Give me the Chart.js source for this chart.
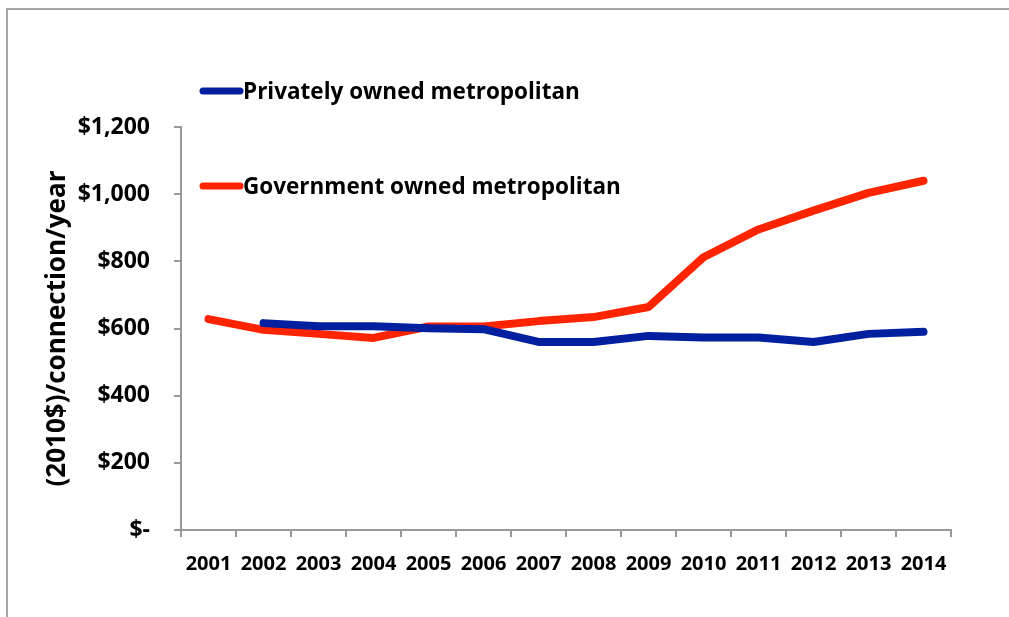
<!DOCTYPE html>
<html>
<head>
<meta charset="utf-8">
<script src="https://cdn.jsdelivr.net/npm/chart.js@4"></script>
<style>
  html, body { margin: 0; padding: 0; background: #fff; overflow: hidden; }
  #frame {
    position: absolute; left: 6px; top: 8px; width: 1100px; height: 700px;
    border-top: 2px solid #a6a6a6; border-left: 2px solid #a6a6a6;
  }
  #wrap { position: absolute; left: 0; top: 0; width: 1009px; height: 617px; }
</style>
</head>
<body>
<div id="frame"></div>
<div id="wrap"><canvas id="costChart"></canvas></div>
<script>
const years = ["2001", "2002", "2003", "2004", "2005", "2006", "2007",
               "2008", "2009", "2010", "2011", "2012", "2013", "2014"];
const privateOwned = [null, 616, 607, 607, 601, 598, 560, 560, 578, 573, 573, 560, 584, 590];
const governmentOwned = [628, 596, 584, 572, 606, 606, 622, 634, 664, 812, 895, 951, 1004, 1040];
const yTicks = [0, 200, 400, 600, 800, 1000, 1200];

const FONT = "'Open Sans', 'Noto Sans', sans-serif";

function money(v) {
  if (v === 0) return "$-";
  return "$" + v.toLocaleString("en-US");
}

// legend entries drawn at fixed spots, one above the plot, one inside it
const floatingLegend = {
  id: "floatingLegend",
  afterDraw(chart) {
    const ctx = chart.ctx;
    const spots = [{ x: 200, y: 91 }, { x: 200, y: 186 }];
    chart.data.datasets.forEach((ds, i) => {
      const p = spots[i];
      ctx.save();
      ctx.strokeStyle = ds.borderColor;
      ctx.lineWidth = 7;
      ctx.lineCap = "round";
      ctx.beginPath();
      ctx.moveTo(p.x + 3, p.y);
      ctx.lineTo(p.x + 40, p.y);
      ctx.stroke();
      ctx.fillStyle = "#000";
      ctx.font = "bold 22.5px " + FONT;
      ctx.textBaseline = "middle";
      ctx.fillText(ds.label, p.x + 43, p.y + 2);
      ctx.restore();
    });
  }
};

new Chart(document.getElementById("costChart"), {
  type: "line",
  data: {
    labels: years,
    datasets: [
      {
        label: "Privately owned metropolitan",
        data: privateOwned,
        borderColor: "#0020a0",
        backgroundColor: "#0020a0",
      },
      {
        label: "Government owned metropolitan",
        data: governmentOwned,
        borderColor: "#ff2400",
        backgroundColor: "#ff2400",
      },
    ],
  },
  options: {
    responsive: true,
    maintainAspectRatio: false,
    animation: false,
    layout: { padding: { left: 42, top: 127, right: 58, bottom: 26 } },
    elements: {
      line: { borderWidth: 8, tension: 0, borderCapStyle: "round", borderJoinStyle: "round" },
      point: { radius: 0, hoverRadius: 0 },
    },
    plugins: { legend: { display: false }, tooltip: { enabled: false } },
    scales: {
      x: {
        offset: true,
        grid: { offset: true, drawOnChartArea: false, color: "#999", tickLength: 7, lineWidth: 2 },
        border: { color: "#999", width: 2 },
        ticks: { color: "#000", font: { family: FONT, size: 20, weight: "bold" }, padding: 15, maxRotation: 0, autoSkip: false },
      },
      y: {
        min: 0,
        max: 1200,
        afterBuildTicks(scale) {
          scale.ticks = yTicks.map(v => ({ value: v }));
        },
        afterFit(scale) {
          scale.width = 139;
        },
        grid: { drawOnChartArea: false, color: "#999", tickLength: 7, lineWidth: 2 },
        border: { color: "#999", width: 2 },
        ticks: {
          color: "#000",
          font: { family: FONT, size: 23, weight: "bold" },
          padding: 24,
          callback: v => money(v),
        },
        title: {
          display: true,
          text: "(2010$)/connection/year",
          color: "#000",
          font: { family: FONT, size: 26, weight: "bold" },
          padding: 0,
        },
      },
    },
  },
  plugins: [floatingLegend],
});
</script>
</body>
</html>
